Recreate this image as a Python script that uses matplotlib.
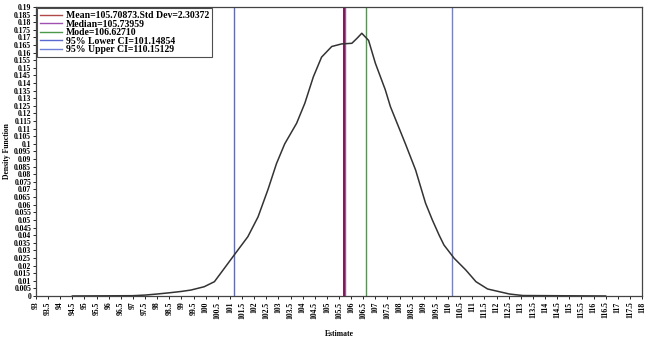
import numpy as np
import matplotlib
matplotlib.use('Agg')
import matplotlib.pyplot as plt
from matplotlib.ticker import MultipleLocator, FuncFormatter

# Curva de densidad
est = [94.5, 97.0, 97.5, 98.0, 98.5, 99.0, 99.39, 99.94, 100.36, 100.77,
       101.23, 101.74, 102.16, 102.57, 102.92, 103.26, 103.75, 104.09, 104.44,
       104.78, 105.2, 105.61, 106.03, 106.25, 106.44, 106.72, 107.0, 107.41,
       107.62, 108.24, 108.66, 109.07, 109.35, 109.63, 109.83, 110.25, 110.73,
       111.15, 111.63, 112.53, 113.08, 116.5]
dens = [0.0, 0.0002, 0.0006, 0.0013, 0.0021, 0.003, 0.0039, 0.0061, 0.0094, 0.0182,
        0.0281, 0.039, 0.052, 0.070, 0.087, 0.100, 0.1135, 0.1267, 0.144,
        0.157, 0.164, 0.1657, 0.1661, 0.1695, 0.1727, 0.168, 0.153, 0.1355,
        0.1245, 0.100, 0.0828, 0.061, 0.050, 0.040, 0.0335, 0.0248, 0.0171,
        0.0094, 0.0046, 0.0013, 0.0003, 0.0]

# Estadísticos
etiquetas = ['Mean=105.70873.Std Dev=2.30372', 'Median=105.73959', 'Mode=106.62710',
             '95% Lower CI=101.14854', '95% Upper CI=110.15129']
valores = [105.70873, 105.73959, 106.62710, 101.14854, 110.15129]
colores = ['#b04848', '#a050b0', '#4a9a4a', '#5a6ad0', '#7080d8']

plt.rcParams['font.family'] = ['Liberation Serif', 'DejaVu Serif']

fig = plt.figure(figsize=(6.5, 3.47), dpi=100)
ax = fig.add_axes([0.0554, 0.147, 0.9323, 0.833])

for v, c, lab in zip(valores, colores, etiquetas):
    ax.axvline(v, color=c, lw=1.0, label=lab)
# mean y median casi se solapan
ax.axvline(valores[0], color='#7a2040', lw=1.4)
ax.plot(est, dens, color='#333333', lw=1.1)

ax.set_xlim(93, 118)
ax.set_ylim(0, 0.19)
ax.xaxis.set_major_locator(MultipleLocator(0.5))
ax.yaxis.set_major_locator(MultipleLocator(0.005))
ax.xaxis.set_major_formatter(FuncFormatter(lambda v, p: f'{v:g}'))
ax.yaxis.set_major_formatter(FuncFormatter(lambda v, p: f'{round(v, 3):g}'))
ax.tick_params(axis='x', labelrotation=90, labelsize=5.5, length=2.5, width=0.6, pad=1.5)
ax.tick_params(axis='y', labelsize=5.5, length=2.5, width=0.6, pad=1)
for lab in ax.get_xticklabels() + ax.get_yticklabels():
    lab.set_fontweight('bold')
for s in ax.spines.values():
    s.set_linewidth(0.9)
    s.set_color('#444444')

ax.set_xlabel('Estimate', fontsize=5.5, fontweight='bold', labelpad=8)
ax.set_ylabel('Density Function', fontsize=5.5, fontweight='bold', labelpad=2)

leg = ax.legend(loc='upper left', frameon=True, fancybox=False,
                edgecolor='#222222', handlelength=2.2, handletextpad=0.4,
                labelspacing=-0.05, borderpad=0.3, borderaxespad=0.15,
                prop={'weight': 'bold', 'size': 7})
leg.get_frame().set_linewidth(0.8)

fig.savefig('out.png', dpi=100)
